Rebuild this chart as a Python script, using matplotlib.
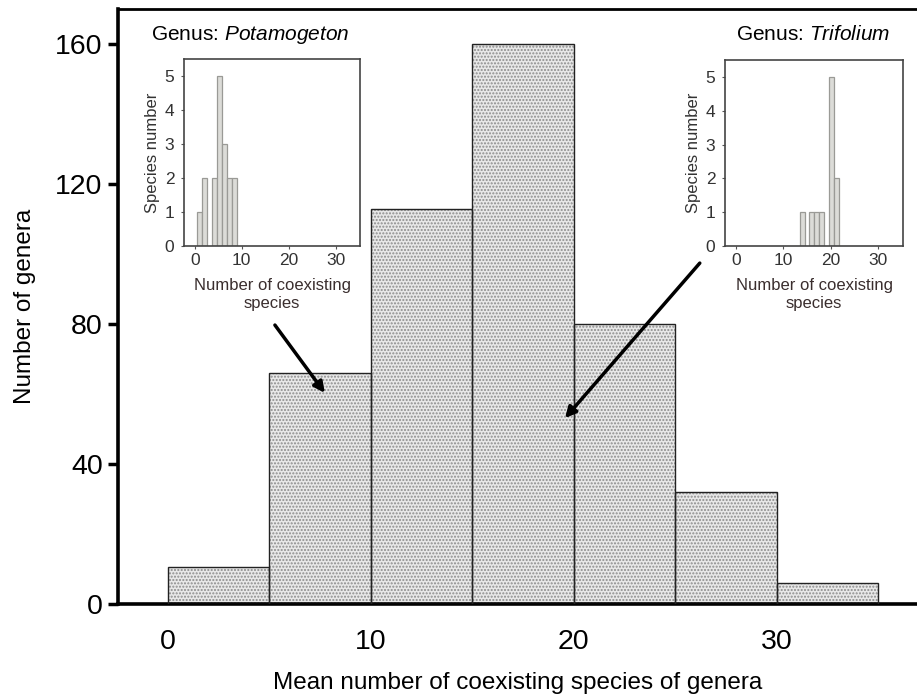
import matplotlib
matplotlib.use("Agg")
import matplotlib.pyplot as plt
import numpy as np

plt.rcParams['font.family'] = ['Liberation Sans', 'DejaVu Sans']
plt.rcParams['mathtext.fontset'] = 'custom'
plt.rcParams['mathtext.rm'] = 'Liberation Sans'
plt.rcParams['mathtext.it'] = 'Liberation Sans:italic'
plt.rcParams['hatch.linewidth'] = 1.0

# Main histogram: bins of mean number of coexisting species
main_bin_left = [0, 5, 10, 15, 20, 25, 30]
main_bin_width = 5
main_counts = [10.5, 66, 113, 160, 80, 32, 6]
main_xticks = [0, 10, 20, 30]
main_yticks = [0, 40, 80, 120, 160]

# Inset: Potamogeton
pota_centers = [1.05, 2.15, 4.15, 5.25, 6.35, 7.4, 8.45]
pota_counts = [1, 2, 2, 5, 3, 2, 2]
# Inset: Trifolium
trif_centers = [13.95, 15.9, 17.0, 18.1, 20.2, 21.25]
trif_counts = [1, 1, 1, 1, 5, 2]
inset_xticks = [0, 10, 20, 30]
inset_yticks = [0, 1, 2, 3, 4, 5]

W, H = 917, 695
fig = plt.figure(figsize=(W / 100, H / 100), dpi=100)

def rect(l, t, r, b):
    return [l / W, 1 - b / H, (r - l) / W, (b - t) / H]

ax = fig.add_axes(rect(118, 9, 917, 604))
ax.bar(main_bin_left, main_counts, width=main_bin_width, align='edge',
       facecolor='#e8e8e8', edgecolor='#8c8c8c', hatch='.....', linewidth=0, zorder=2)
ax.bar(main_bin_left, main_counts, width=main_bin_width, align='edge',
       facecolor='none', edgecolor='#222222', linewidth=1.0, zorder=3)
ax.set_xlim(-2.46, 36.9)
ax.set_ylim(0, 170)
ax.set_xticks(main_xticks)
ax.set_yticks(main_yticks)
ax.tick_params(axis='x', length=0, pad=18, labelsize=20.5)
ax.tick_params(axis='y', length=7, width=2.5, pad=4, labelsize=20.5)
for s in ['left', 'bottom']:
    ax.spines[s].set_linewidth(2.6)
ax.spines['top'].set_linewidth(2.0)
ax.spines['right'].set_visible(False)
ax.set_xlabel('Mean number of coexisting species of genera', fontsize=17.5, labelpad=12.5)
ax.set_ylabel('Number of genera', fontsize=17.5, labelpad=14)

# arrows
ax.annotate('', xy=(7.73, 60.3), xytext=(5.27, 79.7),
            arrowprops=dict(arrowstyle='-|>', color='black', lw=2.5,
                            mutation_scale=16, shrinkA=0, shrinkB=0), zorder=6)
ax.annotate('', xy=(19.56, 53.1), xytext=(26.2, 97.4),
            arrowprops=dict(arrowstyle='-|>', color='black', lw=2.5,
                            mutation_scale=16, shrinkA=0, shrinkB=0), zorder=6)

def make_inset(pos, centers, counts):
    ia = fig.add_axes(pos)
    ia.bar(centers, counts, width=1.05, facecolor='#dcdcd8', edgecolor='#9a9a96', linewidth=0.9)
    ia.set_xlim(-2.3, 35.2)
    ia.set_ylim(0, 5.5)
    ia.set_xticks(inset_xticks)
    ia.set_yticks(inset_yticks)
    ia.tick_params(length=2, width=0.8, color='#555555', labelsize=12.5, labelcolor='#333333', pad=3)
    ia.tick_params(axis='y', pad=5)
    for s in ia.spines.values():
        s.set_linewidth(1.2)
        s.set_color('#444444')
    ia.set_ylabel('Species number', fontsize=12, color='#333333', labelpad=3)
    ia.set_xlabel('Number of coexisting\nspecies', fontsize=12, color='#3a2e2e',
                  linespacing=1.25, labelpad=7)
    return ia

make_inset(rect(184, 59, 360, 246), pota_centers, pota_counts)
make_inset(rect(725, 60, 903, 246), trif_centers, trif_counts)

fig.text(250 / W, 1 - 35 / H, 'Genus: $\\mathit{Potamogeton}$', fontsize=15,
         ha='center', va='center')
fig.text(813 / W, 1 - 35 / H, 'Genus: $\\mathit{Trifolium}$', fontsize=15,
         ha='center', va='center')

fig.savefig('out.png', dpi=100)
